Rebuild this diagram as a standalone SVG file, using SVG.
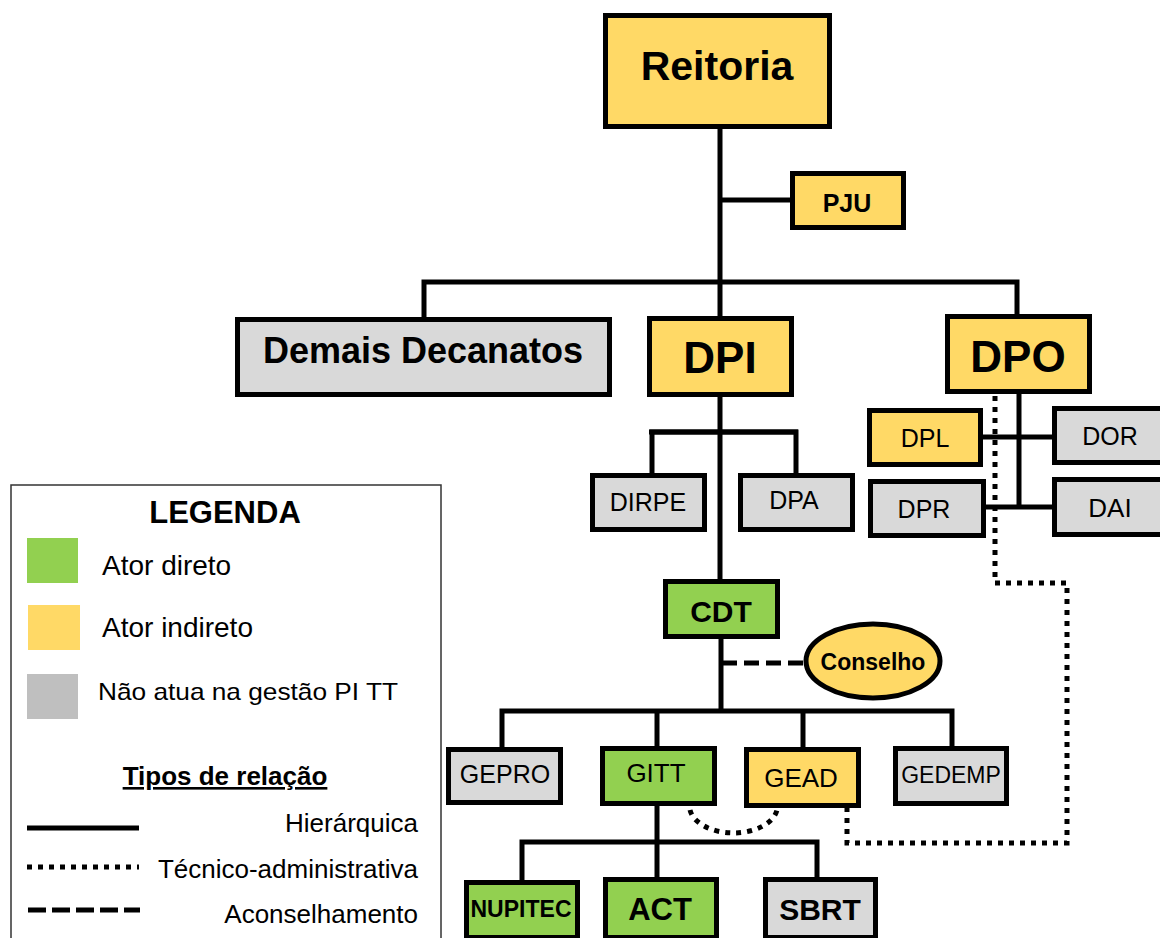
<svg xmlns="http://www.w3.org/2000/svg" width="1160" height="938" viewBox="0 0 1160 938">
<style>
.box{stroke:#000;stroke-width:5}
.y{fill:#ffd966}.g{fill:#92d050}.gr{fill:#d9d9d9}
.t{font-family:"Liberation Sans",Arial,sans-serif;fill:#000;text-anchor:middle}
.b{font-weight:bold}
.solid{stroke:#000;stroke-width:5;fill:none}
.dot{stroke:#000;stroke-width:5;fill:none;stroke-dasharray:5 6}
.dash{stroke:#000;stroke-width:5;fill:none;stroke-dasharray:15 7}
.lg{font-family:"Liberation Sans",Arial,sans-serif;fill:#000}
</style>
<rect width="1160" height="938" fill="#fff"/>
<g id="legend">
<rect x="11" y="485" width="430" height="470" fill="none" stroke="#333" stroke-width="1.5"/>
<text class="t b" x="225" y="523" font-size="31">LEGENDA</text>
<rect x="27" y="538" width="51" height="45" fill="#92d050"/>
<text class="lg" x="102" y="575" font-size="28">Ator direto</text>
<rect x="28" y="605" width="52" height="45" fill="#ffd966"/>
<text class="lg" x="102" y="637" font-size="28">Ator indireto</text>
<rect x="27" y="674" width="51" height="45" fill="#bfbfbf"/>
<text class="lg" x="98" y="700" font-size="24" textLength="300" lengthAdjust="spacingAndGlyphs">Não atua na gestão PI TT</text>
<text class="t b" x="225" y="785" font-size="26" text-decoration="underline">Tipos de relação</text>
<line x1="27" y1="828" x2="139" y2="828" stroke="#000" stroke-width="5"/>
<text class="lg" x="418" y="832" font-size="26" text-anchor="end">Hierárquica</text>
<line x1="27" y1="867" x2="139" y2="867" stroke="#000" stroke-width="5" stroke-dasharray="5 6"/>
<text class="lg" x="418" y="878" font-size="26" text-anchor="end">Técnico-administrativa</text>
<line x1="28" y1="910" x2="140" y2="910" stroke="#000" stroke-width="5" stroke-dasharray="18 6"/>
<text class="lg" x="418" y="923" font-size="26" text-anchor="end">Aconselhamento</text>
</g>
<g id="connectors">
<path class="solid" d="M720,129 V579"/>
<path class="solid" d="M720,200 H792"/>
<path class="solid" d="M424,317 V282 H1017 V315"/>
<path class="solid" d="M652,475 V432 H796 V475"/>
<path class="solid" d="M649,432 H798"/>
<path class="solid" d="M1019,394 V507"/>
<path class="solid" d="M983,437 H1052"/>
<path class="solid" d="M986,507 H1052"/>
<path class="solid" d="M721,639 V711"/>
<path class="solid" d="M502,748 V711 H952 V748"/>
<path class="solid" d="M657,711 V748"/>
<path class="solid" d="M803,711 V748"/>
<path class="solid" d="M657,806 V880"/>
<path class="solid" d="M522,882 V842 H817 V879"/>
<path class="dash" d="M722,663 H806"/>
<path class="dot" d="M995,396 V583 H1067 V843 H847 V808"/>
<path class="dot" d="M690,810 A44,27 0 0 0 777,810"/>
</g>
<g id="reitoria"><rect class="box y" x="605.5" y="15.5" width="224" height="111"/><text class="t b" x="717" y="80" font-size="41">Reitoria</text></g>
<g id="pju"><rect class="box y" x="792.5" y="173.5" width="111" height="54"/><text class="t b" x="847" y="212" font-size="25">PJU</text></g>
<g id="demais"><rect class="box gr" x="237.5" y="319.5" width="372" height="75"/><text class="t b" x="423" y="363" font-size="36">Demais Decanatos</text></g>
<g id="dpi"><rect class="box y" x="649.5" y="318.5" width="142" height="76"/><text class="t b" x="720" y="373" font-size="44">DPI</text></g>
<g id="dpo"><rect class="box y" x="947.5" y="316.5" width="142" height="75"/><text class="t b" x="1018" y="372" font-size="44">DPO</text></g>
<g id="dirpe"><rect class="box gr" x="592.5" y="475.5" width="112" height="54"/><text class="t" x="648" y="511" font-size="25">DIRPE</text></g>
<g id="dpa"><rect class="box gr" x="740.5" y="475.5" width="112" height="54"/><text class="t" x="794" y="509" font-size="25">DPA</text></g>
<g id="dpl"><rect class="box y" x="869.5" y="410.5" width="111" height="54"/><text class="t" x="925" y="447" font-size="25">DPL</text></g>
<g id="dor"><rect class="box gr" x="1054.5" y="408.5" width="130" height="54"/><text class="t" x="1110" y="445" font-size="25">DOR</text></g>
<g id="dpr"><rect class="box gr" x="870.5" y="481.5" width="113" height="54"/><text class="t" x="924" y="518" font-size="25">DPR</text></g>
<g id="dai"><rect class="box gr" x="1054.5" y="479.5" width="130" height="55"/><text class="t" x="1110" y="517" font-size="26">DAI</text></g>
<g id="cdt"><rect class="box g" x="665.5" y="581.5" width="112" height="55"/><text class="t b" x="721" y="622" font-size="30">CDT</text></g>
<g id="conselho"><ellipse class="box y" cx="873" cy="661" rx="67" ry="37"/><text class="t b" x="873" y="670" font-size="23">Conselho</text></g>
<g id="gepro"><rect class="box gr" x="448.5" y="749.5" width="112" height="53"/><text class="t" x="505" y="783" font-size="25">GEPRO</text></g>
<g id="gitt"><rect class="box g" x="602.5" y="748.5" width="112" height="55"/><text class="t" x="656" y="782" font-size="26">GITT</text></g>
<g id="gead"><rect class="box y" x="746.5" y="749.5" width="112" height="56"/><text class="t" x="801" y="787" font-size="26">GEAD</text></g>
<g id="gedemp"><rect class="box gr" x="895.5" y="748.5" width="111" height="55"/><text class="t" x="951" y="783" font-size="23">GEDEMP</text></g>
<g id="nupitec"><rect class="box g" x="466.5" y="882.5" width="111" height="55"/><text class="t b" x="521" y="917" font-size="23" textLength="101" lengthAdjust="spacingAndGlyphs">NUPITEC</text></g>
<g id="act"><rect class="box g" x="605.5" y="879.5" width="111" height="58"/><text class="t b" x="660" y="920" font-size="31">ACT</text></g>
<g id="sbrt"><rect class="box gr" x="765.5" y="879.5" width="110" height="58"/><text class="t b" x="820" y="920" font-size="30">SBRT</text></g>
</svg>
